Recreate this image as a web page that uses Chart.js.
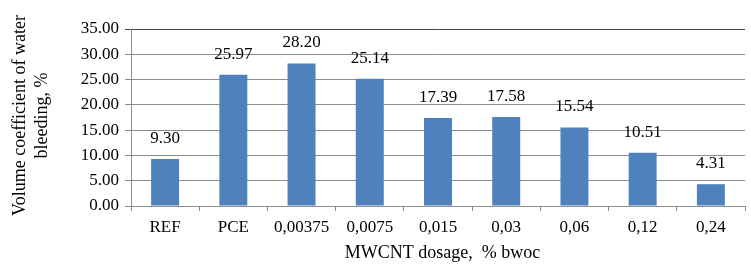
<!DOCTYPE html>
<html>
<head>
<meta charset="utf-8">
<script src="https://cdn.jsdelivr.net/npm/chart.js@4"></script>
<style>
  html, body { margin: 0; padding: 0; background: #fff; }
  #wrap { width: 751px; height: 266px; }
</style>
</head>
<body>
<div id="wrap"><canvas id="grafico" width="751" height="266"></canvas></div>
<script>
const categorias = ['REF', 'PCE', '0,00375', '0,0075', '0,015', '0,03', '0,06', '0,12', '0,24'];
const valores = [9.30, 25.97, 28.20, 25.14, 17.39, 17.58, 15.54, 10.51, 4.31];
const yMin = 0, yMax = 35, yPaso = 5;
const tituloY = ['Volume coefficient of water', 'bleeding, %'];

const fuente = 'Liberation Serif, Times New Roman, serif';

// etiquetas encima de cada barra
const etiquetas = {
    id: 'etiquetas',
    afterDatasetsDraw(chart) {
        const ctx = chart.ctx;
        const meta = chart.getDatasetMeta(0);
        ctx.save();
        ctx.font = '17px ' + fuente;
        ctx.fillStyle = '#000';
        ctx.textAlign = 'center';
        ctx.textBaseline = 'bottom';
        meta.data.forEach((barra, i) => {
            ctx.fillText(valores[i].toFixed(2), barra.x, barra.y - 12);
        });
        ctx.restore();
    }
};

// titulo del eje y, sin que Chart.js lo comprima
const tituloEjeY = {
    id: 'tituloEjeY',
    afterDraw(chart) {
        const ctx = chart.ctx;
        const area = chart.chartArea;
        const cy = (area.top + area.bottom) / 2 - 2;
        ctx.save();
        ctx.font = '18px ' + fuente;
        ctx.fillStyle = '#000';
        ctx.textAlign = 'center';
        ctx.textBaseline = 'middle';
        tituloY.forEach((linea, i) => {
            ctx.save();
            ctx.translate(20 + i * 22, cy);
            ctx.rotate(-Math.PI / 2);
            ctx.fillText(linea, 0, 0);
            ctx.restore();
        });
        ctx.restore();
    }
};

new Chart(document.getElementById('grafico').getContext('2d'), {
    type: 'bar',
    data: {
        labels: categorias,
        datasets: [{
            data: valores,
            backgroundColor: '#4f81bd',
            borderWidth: 0,
            barPercentage: 0.41,
            categoryPercentage: 1
        }]
    },
    options: {
        responsive: false,
        animation: false,
        layout: { padding: { top: 29, right: 6, left: 0, bottom: 0 } },
        plugins: { legend: { display: false }, tooltip: { enabled: false } },
        scales: {
            x: {
                afterFit(s) { s.height = 60; },
                grid: { display: true, drawOnChartArea: false, offset: true, tickLength: 5, color: '#8c8c8c' },
                border: { color: '#8c8c8c' },
                ticks: { color: '#000', font: { family: fuente, size: 17 }, padding: 6, maxRotation: 0, autoSkip: false },
                title: { display: true, text: '  MWCNT dosage,  % bwoc', color: '#000', font: { family: fuente, size: 18 }, padding: { top: 2, bottom: 2 } }
            },
            y: {
                min: yMin, max: yMax,
                afterFit(s) { s.width = 131; },
                grid: {
                    tickLength: 6,
                    color: (c) => c.tick && c.tick.value === yMax ? '#444' : '#8c8c8c'
                },
                border: { color: '#8c8c8c' },
                ticks: {
                    stepSize: yPaso, color: '#000', padding: 6,
                    font: { family: fuente, size: 17 },
                    callback: (v) => v.toFixed(2)
                }
            }
        }
    },
    plugins: [etiquetas, tituloEjeY]
});
</script>
</body>
</html>
